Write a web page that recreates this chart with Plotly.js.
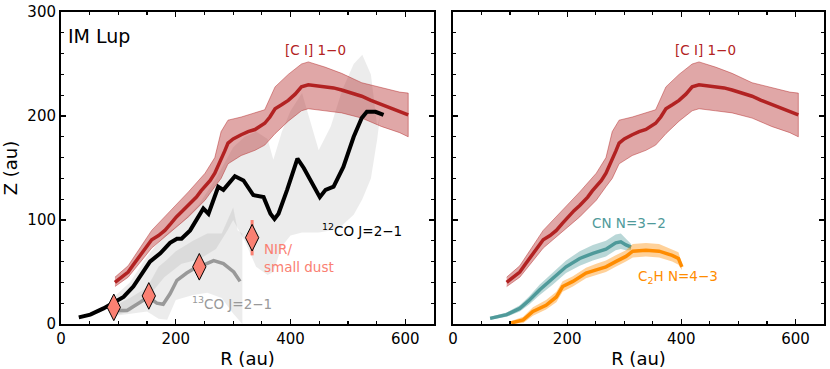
<!DOCTYPE html>
<html>
<head>
<meta charset="utf-8">
<script src="https://cdn.plot.ly/plotly-3.0.1.min.js"></script>
<style>html,body{margin:0;padding:0;background:#fff;}#chart{width:830px;height:369px;}</style>
</head>
<body>
<div id="chart"></div>
<script>
// ---------- [C I] 1-0 ----------
const ciR = [94,105,117,126,134,145,158,170,181,192,201,212,222,230,236,244,251,260,268,274,279,285,291,300,314,326,338,346,355,364,373,385,396,408,419,431,445,460,475,489,505,524,540,558,575,590,605];
const ciZ = [40,45,50,57,63,71,81,85,90,97,103,109,114,118,122,128,132,138,145,152,158,166,174,178,182,185,187,190,193,199,207,211,215,221,228,230,229,228,227,225,222,219,215,211,207,204,201];
const ciBandR = [94,117,158,201,222,251,268,279,291,314,338,355,373,396,419,431,460,489,524,558,590,605];
const ciHi = [45,56,90,115,127,145,160,185,196,199,203,206,228,240,250,252,247,241,232,227,223,222];
const ciLo = [36,45,73,93,103,119,132,140,154,162,167,172,183,195,205,207,205,203,198,190,184,180];

// ---------- 12CO J=2-1 ----------
const co12R = [31,51,74,91,109,126,144,155,173,190,202,210,225,239,248,257,266,274,283,295,303,318,327,335,353,365,372,379,394,412,423,435,451,461,475,492,510,524,533,548,562];
const co12Z = [6.4,9,15,20,26,36,52,60,68,78,82,82,90,103,111,106,119,132,129,137,142,138,130,124,122,106,101,106,129,159,150,138,122,129,132,151,180,198,204,204,201];
const co12BandR = [90,120,150,180,210,240,270,290,300,320,340,360,370,385,400,420,449,470,490,510,525,540,551,556];
const co12Hi = [25,40,65,85,98,115,140,160,170,180,185,178,158,185,205,222,167,190,225,250,259,240,190,200];
const co12Lo = [8,12,25,45,58,62,72,90,100,80,55,47,50,75,85,88,88,90,95,105,120,140,178,200];

// ---------- 13CO J=2-1 ----------
const co13R = [94,115,138,152,167,178,190,202,219,237,254,266,283,301,312];
const co13Z = [13,13,21,26,20,19,29,42,49,55,58,61,58,50,41];
const co13BandR = [95,120,150,170,185,200,230,255,280,300,308,316];
const co13Hi = [18,25,35,55,62,70,80,87,87,112,90,87];
const co13Lo = [8,10,12,5,4,23,28,30,25,10,5,0];

// ---------- NIR / small dust ----------
const nirR = [92,153,241,333];
const nirZ = [16,27,55,83];
const nirErr = [0,0,0,17];

// ---------- CN N=3-2 ----------
const cnR = [65,94,117,134,152,175,198,222,245,268,285,294,303,312];
const cnZ = [5.4,9,15,23,33,44,55,63,68,72,78,79,76,74];
const cnHi = [7,11,18,27,38,50,61,70,76,80,86,87,82,77];
const cnLo = [4,7,12,19,28,38,49,56,61,65,71,72,71,71];

// ---------- C2H N=4-3 ----------
const c2hR = [102,123,140,163,181,192,210,233,251,268,285,303,315,338,361,384,395,401];
const c2hZ = [1,4,12,18,26,36,41,49,52,55,60,65,70,71,70,66,63,55];
const c2hHi = [3,7,16,23,31,41,46,54,58,61,66,71,77,78,77,72,69,58];
const c2hLo = [0,1,8,14,21,31,36,44,47,50,55,60,64,65,64,60,57,52];

function band(x, hi, lo, color, xa, ya, lineColor) {
  return {
    x: x.concat(x.slice().reverse()),
    y: hi.concat(lo.slice().reverse()),
    type: 'scatter', mode: 'lines', fill: 'toself', fillcolor: color,
    line: {color: lineColor || 'rgba(0,0,0,0)', width: lineColor ? 1 : 0},
    xaxis: xa, yaxis: ya, hoverinfo: 'skip'
  };
}
function line(x, y, color, w, xa, ya) {
  return {x: x, y: y, type: 'scatter', mode: 'lines', line: {color: color, width: w},
          xaxis: xa, yaxis: ya};
}

const RED = '#b22222', TEAL = '#4f9a9a', ORANGE = '#ff8c00', SALMON = '#fa8072';

const traces = [
  band(co12BandR, co12Hi, co12Lo, 'rgba(128,128,128,0.15)', 'x', 'y'),
  band(co13BandR, co13Hi, co13Lo, 'rgba(128,128,128,0.15)', 'x', 'y'),
  band(ciBandR, ciHi, ciLo, 'rgba(178,34,34,0.4)', 'x', 'y', 'rgba(178,34,34,0.45)'),
  line(co13R, co13Z, '#999999', 3.5, 'x', 'y'),
  line(ciR, ciZ, RED, 3.5, 'x', 'y'),
  line(co12R, co12Z, '#000000', 4, 'x', 'y'),
  {x: nirR, y: nirZ, type: 'scatter', mode: 'markers', xaxis: 'x', yaxis: 'y',
   marker: {symbol: 'diamond-tall', size: 19, color: SALMON, line: {color: '#000', width: 1}},
   error_y: {type: 'data', array: nirErr, visible: true, color: SALMON, thickness: 3, width: 0}},

  band(ciBandR, ciHi, ciLo, 'rgba(178,34,34,0.4)', 'x2', 'y2', 'rgba(178,34,34,0.45)'),
  line(ciR, ciZ, RED, 3.5, 'x2', 'y2'),
  band(cnR, cnHi, cnLo, 'rgba(79,154,154,0.4)', 'x2', 'y2'),
  line(cnR, cnZ, TEAL, 3.5, 'x2', 'y2'),
  band(c2hR, c2hHi, c2hLo, 'rgba(255,140,0,0.4)', 'x2', 'y2'),
  line(c2hR, c2hZ, ORANGE, 3.5, 'x2', 'y2')
];

const FONT = 'DejaVu Sans, sans-serif';
function xax(domain, anchor) {
  return {domain: domain, anchor: anchor, range: [0, 650], tick0: 0, dtick: 200,
    ticks: 'inside', ticklen: 5, tickwidth: 1.2, tickcolor: '#000',
    minor: {tick0: 0, dtick: 50, ticks: 'inside', ticklen: 3, tickwidth: 1.2, tickcolor: '#000'},
    showline: true, linewidth: 2, linecolor: '#000', mirror: 'allticks',
    showgrid: false, zeroline: false, tickfont: {family: FONT, size: 15, color: '#000'},
    title: {text: 'R (au)', font: {family: FONT, size: 18, color: '#000'}, standoff: 6}};
}
function yax(anchor, labels) {
  return {domain: [0, 1], anchor: anchor, range: [0, 300], tick0: 0, dtick: 100,
    ticks: 'inside', ticklen: 5, tickwidth: 1.2, tickcolor: '#000',
    minor: {tick0: 0, dtick: 20, ticks: 'inside', ticklen: 3, tickwidth: 1.2, tickcolor: '#000'},
    showline: true, linewidth: 2, linecolor: '#000', mirror: 'allticks',
    showgrid: false, zeroline: false, showticklabels: labels,
    tickfont: {family: FONT, size: 15, color: '#000'},
    title: labels ? {text: 'Z (au)', font: {family: FONT, size: 18, color: '#000'}, standoff: 10} : {text: ''}};
}

const ann = (x, y, text, color, size, xref, yref, xanchor) => ({
  x: x, y: y, xref: xref, yref: yref, text: text, showarrow: false,
  xanchor: xanchor || 'center', yanchor: 'middle',
  font: {family: FONT, size: size, color: color}, align: 'left'
});

const layout = {
  width: 830, height: 369,
  margin: {l: 61, r: 6, t: 12, b: 45},
  paper_bgcolor: '#fff', plot_bgcolor: '#fff', showlegend: false,
  xaxis: xax([0, 0.4889], 'y'),
  yaxis: yax('x', true),
  xaxis2: xax([0.5138, 1], 'y2'),
  yaxis2: yax('x2', false),
  annotations: [
    ann(8, 277, 'IM Lup', '#000', 19, 'x', 'y', 'left'),
    ann(443, 263, '[C I] 1\u22120', RED, 13.5, 'x', 'y'),
    ann(525, 90, '<sup>12</sup>CO J=2\u22121', '#000', 13.5, 'x', 'y'),
    ann(351, 63, 'NIR/<br>small dust', SALMON, 13.5, 'x', 'y', 'left'),
    ann(298, 20, '<sup>13</sup>CO J=2\u22121', '#999999', 13.5, 'x', 'y'),
    ann(443, 263, '[C I] 1\u22120', RED, 13.5, 'x2', 'y2'),
    ann(309, 97, 'CN N=3\u22122', TEAL, 13.5, 'x2', 'y2'),
    ann(394, 45, 'C<sub>2</sub>H N=4\u22123', ORANGE, 13.5, 'x2', 'y2')
  ]
};

Plotly.newPlot('chart', traces, layout, {displayModeBar: false, staticPlot: true});
</script>
</body>
</html>
